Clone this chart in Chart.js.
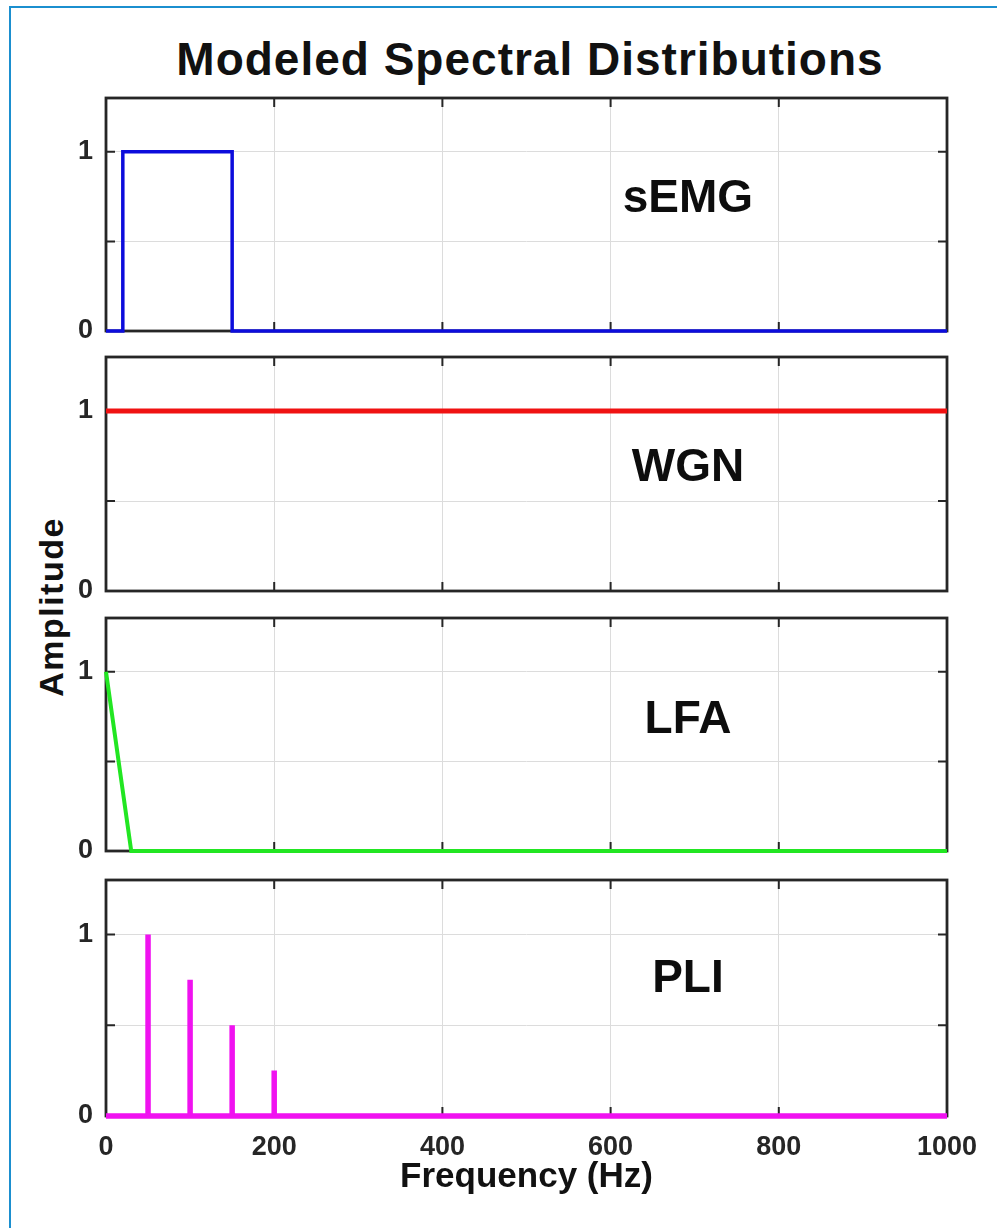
<!DOCTYPE html>
<html>
<head>
<meta charset="utf-8">
<script src="https://cdn.jsdelivr.net/npm/chart.js@4.4.1/dist/chart.umd.min.js"></script>
<style>
  html, body { margin: 0; padding: 0; background: #fff; width: 997px; height: 1228px; overflow: hidden; }
  body { position: relative; }
  #frame { position: absolute; left: 9px; top: 6px; width: 1100px; height: 1300px; border: 2.5px solid #1b8fcf; box-sizing: border-box; }
  .txt { position: absolute; font-family: "Liberation Sans", Arial, sans-serif; font-weight: bold; color: #111; white-space: nowrap; text-align: center; }
  #mainTitle { left: 0; width: 1060px; top: 36px; font-size: 46px; line-height: 46px; letter-spacing: 1px; }
  #ampLabel { left: -99px; top: 590px; width: 300px; height: 34px; font-size: 34px; line-height: 34px; letter-spacing: 1.5px; transform: rotate(-90deg); }
  canvas { position: absolute; left: 0; }
</style>
</head>
<body>
<div id="frame"></div>
<div class="txt" id="mainTitle">Modeled Spectral Distributions</div>
<div class="txt" id="ampLabel">Amplitude</div>
<script>
// ---- data ----
const freqTicks = [0, 200, 400, 600, 800, 1000];
const ampTicks = [0, 0.5, 1];
const ampTickLabels = ['0', '', '1'];

const semgFreq = [0, 20, 20, 150, 150, 1000];
const semgAmp = [0, 0, 1, 1, 0, 0];

const wgnFreq = [0, 1000];
const wgnAmp = [1, 1];

const lfaFreq = [0, 30, 1000];
const lfaAmp = [1, 0, 0];

const pliBaseFreq = [0, 1000];
const pliHarmonics = [50, 100, 150, 200];
const pliPeaks = [1, 0.75, 0.5, 0.25];

const panelNames = ['sEMG', 'WGN', 'LFA', 'PLI'];

// ---- layout ----
const panelBoxes = [
  {top: 98, height: 233},
  {top: 357, height: 234},
  {top: 618, height: 233},
  {top: 880, height: 236},
];
const labelSpots = [
  {x: 692, y: 0.735},
  {x: 692, y: 0.68},
  {x: 692, y: 0.73},
  {x: 692, y: 0.755},
];
const FONT = '"Liberation Sans", Arial, sans-serif';
Chart.defaults.font.family = FONT;

const toPoints = (xs, ys) => xs.map((x, i) => ({x: x, y: ys[i]}));

function pliPoints() {
  const pts = [{x: pliBaseFreq[0], y: 0}];
  pliHarmonics.forEach((h, i) => {
    pts.push({x: h, y: 0}, {x: h, y: pliPeaks[i]}, {x: h, y: 0});
  });
  pts.push({x: pliBaseFreq[1], y: 0});
  return pts;
}

// box round the plot with inward tick marks, like the original axes
const framePlugin = {
  id: 'frame',
  beforeDatasetsDraw(chart) {
    const {ctx, chartArea: a, scales: {x, y}} = chart;
    ctx.save();
    ctx.strokeStyle = '#262626';
    ctx.lineWidth = 2;
    ctx.beginPath();
    freqTicks.forEach(v => {
      const px = x.getPixelForValue(v);
      ctx.moveTo(px, a.bottom); ctx.lineTo(px, a.bottom - 9);
      ctx.moveTo(px, a.top); ctx.lineTo(px, a.top + 9);
    });
    ampTicks.forEach(v => {
      const py = y.getPixelForValue(v);
      ctx.moveTo(a.left, py); ctx.lineTo(a.left + 9, py);
      ctx.moveTo(a.right, py); ctx.lineTo(a.right - 9, py);
    });
    ctx.stroke();
    ctx.lineWidth = 2.8;
    ctx.strokeRect(a.left, a.top, a.right - a.left, a.bottom - a.top);
    ctx.restore();
  }
};

const labelPlugin = {
  id: 'panelLabel',
  afterDatasetsDraw(chart, args, opts) {
    const {ctx, scales: {x, y}} = chart;
    ctx.save();
    ctx.font = 'bold 46px ' + FONT;
    ctx.fillStyle = '#0d0d0d';
    ctx.textAlign = 'center';
    ctx.textBaseline = 'middle';
    ctx.fillText(opts.text, x.getPixelForValue(opts.x), y.getPixelForValue(opts.y));
    ctx.restore();
  }
};

function makePanel(i, points, color, width) {
  const last = i === panelBoxes.length - 1;
  const box = panelBoxes[i];
  const pad = 12;
  const top = box.top - pad;
  const canvas = document.createElement('canvas');
  canvas.width = 997;
  canvas.height = last ? 1228 - top : box.height + 2 * pad;
  canvas.style.top = top + 'px';
  document.body.appendChild(canvas);

  new Chart(canvas, {
    type: 'line',
    data: {
      datasets: [{
        data: points,
        borderColor: color,
        borderWidth: width,
        pointRadius: 0,
        tension: 0,
        fill: false,
        clip: false,
        borderJoinStyle: 'miter',
        borderCapStyle: 'butt',
      }]
    },
    options: {
      responsive: false,
      animation: false,
      events: [],
      layout: {padding: {left: 0, right: 50, top: pad, bottom: last ? 0 : pad}},
      plugins: {
        legend: {display: false},
        tooltip: {enabled: false},
        panelLabel: {text: panelNames[i], x: labelSpots[i].x, y: labelSpots[i].y},
      },
      scales: {
        x: {
          type: 'linear',
          min: 0,
          max: 1000,
          afterBuildTicks: s => { s.ticks = freqTicks.map(v => ({value: v})); },
          afterFit: s => { s.height = last ? 112 : 0; s.paddingLeft = 0; s.paddingRight = 0; },
          grid: {color: '#dcdcdc', lineWidth: 1, drawTicks: false},
          border: {display: false},
          ticks: {
            display: last, padding: 15, maxRotation: 0, autoSkip: false,
            color: '#262626', font: {size: 27, weight: 'bold'},
            callback: v => String(v),
          },
          title: {
            display: last, text: 'Frequency (Hz)', color: '#111',
            font: {size: 35, weight: 'bold'}, padding: {top: 0, bottom: 30},
          },
        },
        y: {
          min: 0,
          max: 1.3,
          afterBuildTicks: s => { s.ticks = ampTicks.map(v => ({value: v})); },
          afterFit: s => { s.width = 106; s.paddingTop = 0; s.paddingBottom = 0; },
          grid: {color: '#dcdcdc', lineWidth: 1, drawTicks: false},
          border: {display: false},
          ticks: {
            padding: 13, color: '#262626', font: {size: 27, weight: 'bold'},
            callback: v => ampTickLabels[ampTicks.indexOf(v)],
          },
        },
      },
    },
    plugins: [framePlugin, labelPlugin],
  });
}

makePanel(0, toPoints(semgFreq, semgAmp), '#0c0cdc', 3.5);
makePanel(1, toPoints(wgnFreq, wgnAmp), '#f01212', 5);
makePanel(2, toPoints(lfaFreq, lfaAmp), '#22e622', 4);
makePanel(3, pliPoints(), '#f012f0', 5.5);
</script>
</body>
</html>
